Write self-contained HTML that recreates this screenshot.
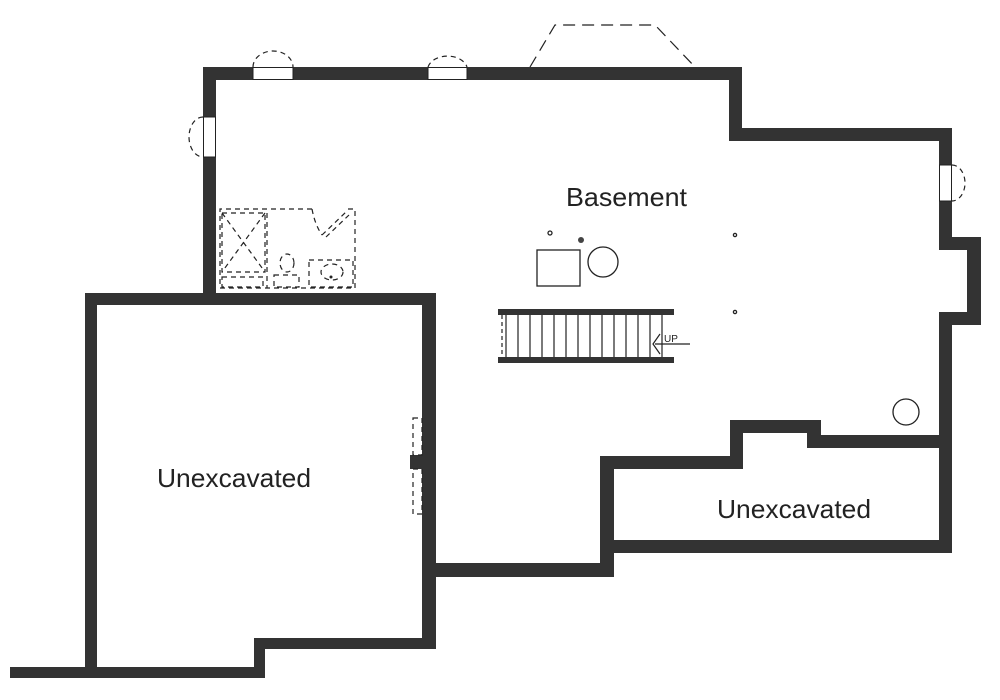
<!DOCTYPE html>
<html><head><meta charset="utf-8"><style>
html,body{margin:0;padding:0;background:#fff;}
svg{display:block;}
text{font-family:"Liberation Sans",sans-serif;fill:#222;}
</style></head><body>
<svg width="1000" height="700" viewBox="0 0 1000 700" xmlns="http://www.w3.org/2000/svg">
<rect width="1000" height="700" fill="#fff"/>
<g fill="#333">
<rect x="203" y="67" width="539" height="13"/>
<rect x="729" y="67" width="13" height="74"/>
<rect x="729" y="128" width="223" height="13"/>
<rect x="939" y="128" width="13" height="122"/>
<rect x="939" y="312" width="13" height="241"/>
<rect x="939" y="237" width="42" height="13"/>
<rect x="967" y="237" width="14" height="88"/>
<rect x="939" y="312" width="42" height="13"/>
<rect x="203" y="67" width="13" height="238"/>
<rect x="85" y="293" width="351" height="12"/>
<rect x="85" y="293" width="12" height="385"/>
<rect x="422" y="293" width="14" height="356"/>
<rect x="255" y="638" width="181" height="11"/>
<rect x="254" y="638" width="11" height="40"/>
<rect x="10" y="667" width="255" height="11"/>
<rect x="422" y="563" width="192" height="14"/>
<rect x="600" y="456" width="14" height="121"/>
<rect x="600" y="456" width="143" height="13"/>
<rect x="730" y="420" width="13" height="49"/>
<rect x="730" y="420" width="91" height="13"/>
<rect x="807" y="420" width="14" height="28"/>
<rect x="807" y="435" width="145" height="13"/>
<rect x="600" y="540" width="352" height="13"/>
<rect x="498" y="309" width="176" height="6"/>
<rect x="498" y="357" width="176" height="6"/>
<rect x="410" y="455" width="12" height="14"/>
</g>
<g fill="#fff" stroke="#222" stroke-width="1">
<rect x="253" y="67.5" width="40" height="12"/>
<rect x="428" y="67.5" width="39" height="12"/>
<rect x="203.5" y="117" width="12" height="40"/>
<rect x="939.5" y="165" width="12" height="36"/>
</g>
<g fill="none" stroke="#222" stroke-width="1.2" stroke-dasharray="5,4">
<path d="M253 67 A20 16 0 0 1 293 67"/>
<path d="M428 67 A20 14 0 0 1 467 67"/>
<path d="M203 117 A14 20 0 0 0 203 157"/>
<path d="M952 165 A13 18 0 0 1 952 201"/>
<polyline points="530,67 555,25 655,25 695,67" stroke-dasharray="12,7"/>
<rect x="413" y="418" width="9" height="37"/>
<rect x="413" y="469" width="9" height="45"/>
<polyline points="312,209 220,209 220,288 355,288 355,209 345,209"/>
<path d="M312 209 Q315 225 322 235"/>
<line x1="322" y1="235" x2="346" y2="212"/>
<line x1="326" y1="237" x2="349" y2="215"/>
<rect x="222" y="213" width="43" height="59"/>
<line x1="222" y1="213" x2="265" y2="272"/>
<line x1="265" y1="213" x2="222" y2="272"/>
<rect x="222" y="277" width="41" height="10"/>
<line x1="267" y1="213" x2="267" y2="288"/>
<ellipse cx="287" cy="263" rx="7" ry="9"/>
<rect x="274" y="275" width="25" height="12"/>
<rect x="309" y="260" width="44" height="27"/>
<ellipse cx="332" cy="272" rx="11" ry="8"/>
<line x1="502" y1="315" x2="502" y2="357" stroke-dasharray="4,3"/>
</g>
<circle cx="331" cy="277" r="1.5" fill="#222"/>
<g stroke="#222" stroke-width="1.2">
<line x1="506" y1="315" x2="506" y2="357"/><line x1="518" y1="315" x2="518" y2="357"/>
<line x1="530" y1="315" x2="530" y2="357"/><line x1="542" y1="315" x2="542" y2="357"/>
<line x1="554" y1="315" x2="554" y2="357"/><line x1="566" y1="315" x2="566" y2="357"/>
<line x1="578" y1="315" x2="578" y2="357"/><line x1="590" y1="315" x2="590" y2="357"/>
<line x1="602" y1="315" x2="602" y2="357"/><line x1="614" y1="315" x2="614" y2="357"/>
<line x1="626" y1="315" x2="626" y2="357"/><line x1="638" y1="315" x2="638" y2="357"/>
<line x1="650" y1="315" x2="650" y2="357"/><line x1="662" y1="315" x2="662" y2="357"/>
<line x1="655" y1="344" x2="690" y2="344"/>
<polyline points="660,334 653,344 660,354" fill="none"/>
</g>
<text x="664" y="342" font-size="10">UP</text>
<g fill="none" stroke="#222" stroke-width="1.3">
<rect x="537" y="250" width="43" height="36"/>
<circle cx="603" cy="262" r="15"/>
<circle cx="550" cy="233" r="2"/>
<circle cx="906" cy="412" r="13"/>
<circle cx="735" cy="235" r="1.6"/>
<circle cx="735" cy="312" r="1.6"/>
</g>
<circle cx="581" cy="240" r="3" fill="#444"/>
<text x="566" y="206" font-size="26" textLength="121" lengthAdjust="spacingAndGlyphs">Basement</text>
<text x="157" y="487" font-size="26" textLength="154" lengthAdjust="spacingAndGlyphs">Unexcavated</text>
<text x="717" y="518" font-size="26" textLength="154" lengthAdjust="spacingAndGlyphs">Unexcavated</text>
</svg>
</body></html>
